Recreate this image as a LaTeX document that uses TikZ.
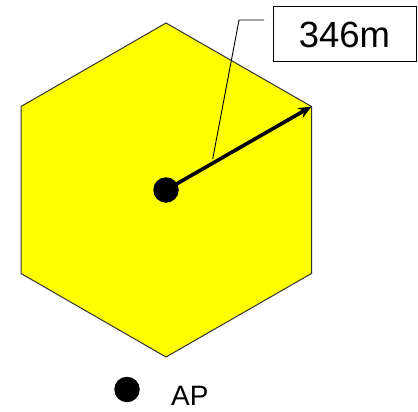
\documentclass[tikz,border=0pt]{standalone}
\usepackage{fontspec}
\setmainfont{Liberation Sans}
\usetikzlibrary{arrows.meta}
\definecolor{hexyellow}{RGB}{255,255,0}
\begin{document}
\begin{tikzpicture}[x=1pt,y=-1pt,
  hexfill/.style={draw=black!80,fill=hexyellow,line width=1pt,line join=miter},
  dotnode/.style={circle,fill=black,inner sep=0pt,minimum size=25.5pt},
  labelbox/.style={draw=black,line width=1pt,fill=white,minimum width=143pt,minimum height=55pt,inner sep=0pt,font=\fontsize{36.5}{40}\selectfont},
  leader/.style={draw=black,line width=0.9pt},
  radius arrow/.style={line width=3.6pt,-{Stealth[length=13pt,width=11pt]}}]
\useasboundingbox (0,0) rectangle (418,412);
% hexagon vertices
\coordinate (vt) at (166,23);
\coordinate (vur) at (311.5,106.5);
\coordinate (vlr) at (311.5,273.5);
\coordinate (vb) at (166,357);
\coordinate (vll) at (21,273.5);
\coordinate (vul) at (21,106.5);
\path[hexfill] (vt) -- (vur) -- (vlr) -- (vb) -- (vll) -- (vul) -- cycle;
% center dot and radius arrow
\node[dotnode] (ctr) at (166,190) {};
\draw[radius arrow] (ctr.center) -- (vur);
% label box and leader line
\node[labelbox] (lbl) at (344.5,34.5) {346m};
\coordinate (l1) at (264,20);
\coordinate (l2) at (239,20);
\coordinate (l3) at (212.7,159);
\draw[leader] (l1) -- (l2) -- (l3);
% legend
\node[dotnode] (apdot) at (127,389.5) {};
\node[anchor=base west,inner sep=0pt,font=\fontsize{28}{32}\selectfont] (aplbl) at (171,405) {AP};
\end{tikzpicture}
\end{document}
